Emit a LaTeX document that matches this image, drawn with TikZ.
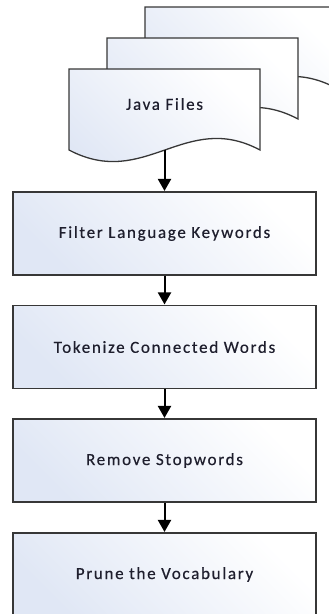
\documentclass[tikz,border=0pt]{standalone}
\usepackage{fontspec}
\setmainfont{Carlito}[LetterSpace=10,FakeBold=0.4]
\usetikzlibrary{arrows.meta}

\definecolor{edge}{RGB}{55,55,55}
\definecolor{tint}{RGB}{224,231,245}
\definecolor{ink}{RGB}{30,30,45}

\tikzset{
  sheetfill/.style={top color=tint, bottom color=white, shading angle=135},
  sheet/.style={sheetfill, draw=edge, line width=1.3pt},
  procbox/.style={sheet, rectangle, minimum width=303pt, minimum height=83pt,
    inner sep=0pt, text=ink, font=\fontsize{17}{20}\selectfont},
  label/.style={text=ink, font=\fontsize{17}{20}\selectfont},
  flow/.style={draw=black, line width=2pt,
    -{Triangle[length=12pt,width=13pt]}, shorten >=0.4pt},
}

% one sheet of the stacked document symbol, wavy lower edge
\newcommand\docsheet[2]{%
  \begin{scope}[shift={(#1,#2)}]
    \path[sheet] (69,69) -- (260,69) -- (260,150)
      .. controls (185,110) and (145,190) .. (69,150) -- cycle;
  \end{scope}}

\begin{document}
\begin{tikzpicture}[x=1pt,y=-1pt]
  \useasboundingbox (0,0) rectangle (329,614);
  \begin{scope}
    \clip (0,0) rectangle (329,614);

    % stacked input documents, back to front
    \docsheet{76}{-62}
    \docsheet{38}{-31}
    \docsheet{0}{0}
    \node[label] (java) at (164.5,104) {Java Files};
    \coordinate (docout) at (164.5,150);

    % processing steps
    \node[procbox] (filter)   at (164.5,233.5) {Filter Language Keywords};
    \node[procbox] (tokenize) at (164.5,347)   {Tokenize Connected Words};
    \node[procbox] (stopword) at (164.5,460.5) {Remove Stopwords};
    \node[procbox] (prune)    at (164.5,574.5) {Prune the Vocabulary};

    \draw[flow] (docout) -- (filter.north);
    \draw[flow] (filter.south) -- (tokenize.north);
    \draw[flow] (tokenize.south) -- (stopword.north);
    \draw[flow] (stopword.south) -- (prune.north);
  \end{scope}
\end{tikzpicture}
\end{document}
